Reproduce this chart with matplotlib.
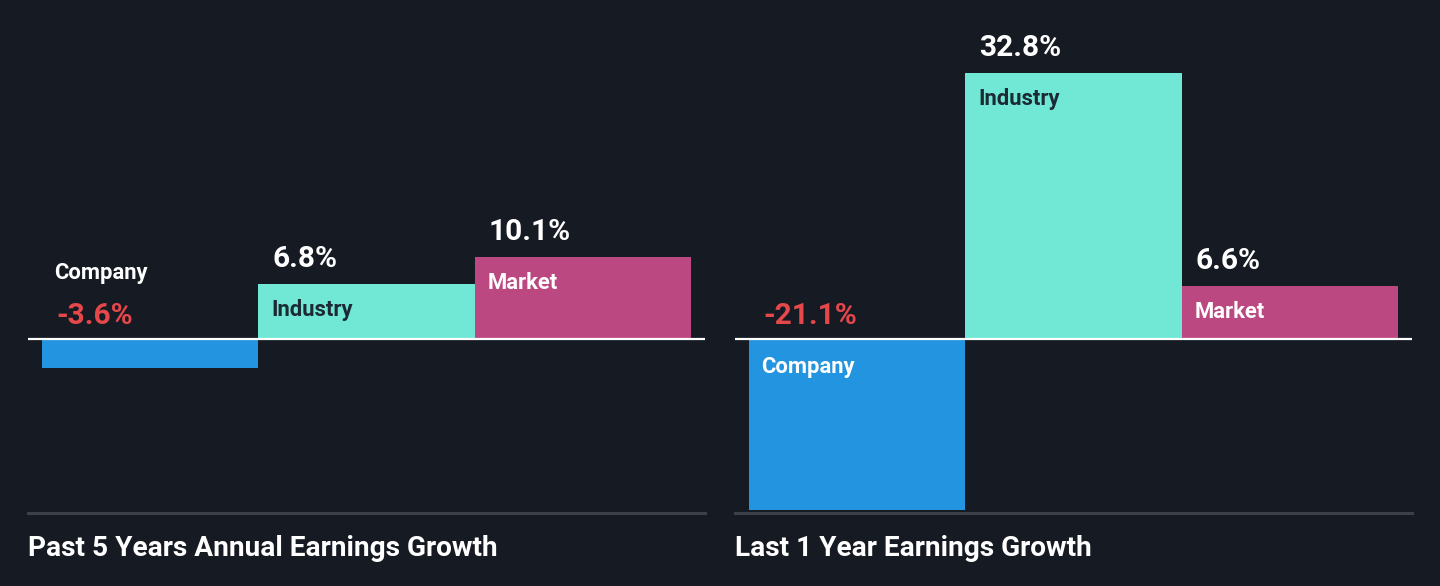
import matplotlib
matplotlib.use("Agg")
import matplotlib.pyplot as plt

plt.rcParams['font.family'] = ['Roboto', 'DejaVu Sans']

categories = ["Company", "Industry", "Market"]
past5_values = [-3.6, 6.8, 10.1]
last1_values = [-21.1, 32.8, 6.6]
titles = ["Past 5 Years Annual Earnings Growth", "Last 1 Year Earnings Growth"]

BG = "#151a23"
bar_colors = ["#2394df", "#71e8d6", "#bc4882"]
name_colors = ["white", "#1c2b33", "white"]
NEG_RED = "#e5474b"

W, H = 1440, 586
fig = plt.figure(figsize=(W / 100, H / 100), dpi=100, facecolor=BG)

PX_PER_PCT = 8.1
ZERO_Y = 339
BOTTOM_Y = 513
ymax = ZERO_Y / PX_PER_PCT
ymin = -(BOTTOM_Y - ZERO_Y) / PX_PER_PCT
pt = 0.72  # px -> points
VAL_FS = 21.5
NAME_FS = 15.8


def panel(left_px, values, title):
    ax = fig.add_axes([left_px / W, 1 - BOTTOM_Y / H, 677 / W, BOTTOM_Y / H])
    ax.set_facecolor(BG)
    margin = 14 / (649 / 3)
    ax.set_xlim(-0.5 - margin, 2.5 + margin)
    ax.set_ylim(ymin, ymax)
    ax.axis("off")
    xs = range(len(values))
    ax.bar(xs, values, width=1.0, color=bar_colors, linewidth=0)
    ax.axhline(0, color="white", lw=1.6, zorder=3)
    ax.axhline(ymin, color="#3b414a", lw=2.2, zorder=3, clip_on=False)

    for i, v in enumerate(values):
        x0 = i - 0.5
        dx = 14 * pt
        vtxt = f"{v:.1f}%"
        if v >= 0:
            ax.annotate(vtxt, (x0, v), xytext=(dx, 25 * pt), textcoords="offset points",
                        color="white", fontsize=VAL_FS, fontweight="bold", va="center", ha="left")
            ax.annotate(categories[i], (x0, v), xytext=(dx - 1, -26 * pt), textcoords="offset points",
                        color=name_colors[i], fontsize=NAME_FS, fontweight="bold", va="center", ha="left")
        else:
            ax.annotate(vtxt, (x0, 0), xytext=(dx, 23 * pt), textcoords="offset points",
                        color=NEG_RED, fontsize=VAL_FS, fontweight="bold", va="center", ha="left")
            if -v * PX_PER_PCT > 60:
                ax.annotate(categories[i], (x0, 0), xytext=(dx - 1, -28 * pt), textcoords="offset points",
                            color=name_colors[i], fontsize=NAME_FS, fontweight="bold", va="center", ha="left")
            else:
                ax.annotate(categories[i], (x0, 0), xytext=(dx - 1, 66 * pt), textcoords="offset points",
                            color=name_colors[i], fontsize=NAME_FS, fontweight="bold", va="center", ha="left")

    fig.text(left_px / W, 1 - 548 / H, title, color="white", fontsize=20.2,
             fontweight="bold", va="center", ha="left")


panel(28, past5_values, titles[0])
panel(735, last1_values, titles[1])

fig.savefig("out.png", dpi=100, facecolor=BG)
